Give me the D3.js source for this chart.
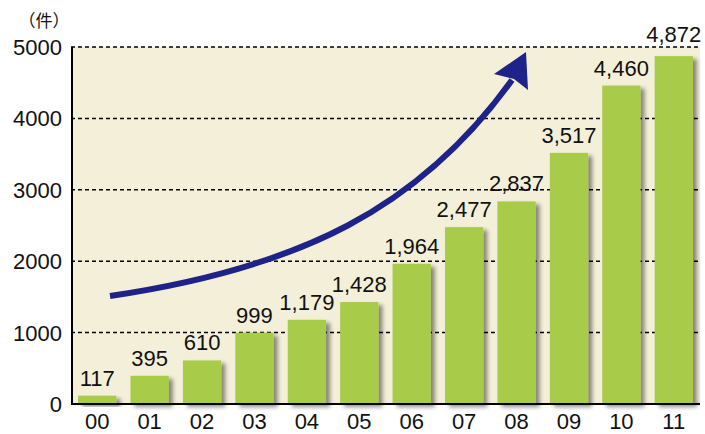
<!DOCTYPE html>
<html><head><meta charset="utf-8">
<script src="https://cdn.jsdelivr.net/npm/d3@7"></script>
<style>body{margin:0;background:#fff}svg{display:block}</style>
</head><body>
<svg id="c" width="705" height="434"></svg>
<script>
const categories = ["00","01","02","03","04","05","06","07","08","09","10","11"];
const values = [117,395,610,999,1179,1428,1964,2477,2837,3517,4460,4872];
const yTicks = [0,1000,2000,3000,4000,5000];
const unitLabel = "（件）";

const svg = d3.select("#c");
const L = 71, R = 700, T = 47, B = 404;
const x = d3.scaleBand().domain(categories).range([L, R]).paddingInner(0.27).paddingOuter(0.135);
const y = d3.scaleLinear().domain([0, 5000]).range([B, T]);
const font = "'Liberation Sans', Arial, Helvetica, sans-serif";

const defs = svg.append("defs");
const f = defs.append("filter").attr("id","sh").attr("x","-20%").attr("y","-20%").attr("width","150%").attr("height","150%");
f.append("feGaussianBlur").attr("in","SourceAlpha").attr("stdDeviation",2.2).attr("result","b");
f.append("feOffset").attr("in","b").attr("dx",4).attr("dy",3).attr("result","o");
f.append("feComponentTransfer").attr("in","o").attr("result","o2").append("feFuncA").attr("type","linear").attr("slope",0.45);
const m = f.append("feMerge"); m.append("feMergeNode").attr("in","o2"); m.append("feMergeNode").attr("in","SourceGraphic");

// background
svg.append("rect").attr("x",L).attr("y",T).attr("width",R-L).attr("height",B-T).attr("fill","#f4efd8");

// gridlines
svg.append("g").selectAll("line").data(yTicks.filter(d=>d>0)).join("line")
  .attr("x1",L).attr("x2",R).attr("y1",d=>y(d)).attr("y2",d=>y(d))
  .attr("stroke","#000").attr("stroke-width",1.5).attr("stroke-dasharray","4,3");

// bars
svg.append("g").selectAll("rect").data(values).join("rect")
  .attr("x",(d,i)=>x(categories[i])).attr("width",x.bandwidth())
  .attr("y",d=>y(d)).attr("height",d=>B-y(d))
  .attr("fill","#a8cb4a").attr("filter","url(#sh)");

// axes lines
svg.append("line").attr("x1",L+1).attr("x2",L+1).attr("y1",T).attr("y2",B).attr("stroke","#000").attr("stroke-width",2);
svg.append("line").attr("x1",L).attr("x2",R).attr("y1",B).attr("y2",B).attr("stroke","#000").attr("stroke-width",2);

// value labels
svg.append("g").selectAll("text").data(values).join("text")
  .attr("x",(d,i)=>x(categories[i])+x.bandwidth()/2)
  .attr("y",(d,i)=>y(d)-(i===11?14:10))
  .attr("text-anchor","middle").attr("font-family",font).attr("font-size",22).attr("fill","#111")
  .text(d=>d3.format(",")(d));

// y tick labels
svg.append("g").selectAll("text").data(yTicks).join("text")
  .attr("x",62).attr("y",d=>y(d)).attr("dy","0.36em")
  .attr("text-anchor","end").attr("font-family",font).attr("font-size",22).attr("fill","#111")
  .text(d=>d);

// x tick labels
svg.append("g").selectAll("text").data(categories).join("text")
  .attr("x",d=>x(d)+x.bandwidth()/2).attr("y",429)
  .attr("text-anchor","middle").attr("font-family",font).attr("font-size",22).attr("fill","#111")
  .text(d=>d);

// unit label
svg.append("text").attr("x",44).attr("y",27).attr("text-anchor","middle")
  .attr("font-family","'Noto Sans CJK JP', sans-serif").attr("font-size",17).attr("fill","#111").text(unitLabel);

// decorative arrow
const ac = "#1f2288";
svg.append("path").attr("d","M110,296 C300,268 420,208 512,80")
  .attr("fill","none").attr("stroke",ac).attr("stroke-width",6);
svg.append("path").attr("d","M526,52 L528,90 L514,79 L494,74 Z").attr("fill",ac);
</script>
</body></html>
